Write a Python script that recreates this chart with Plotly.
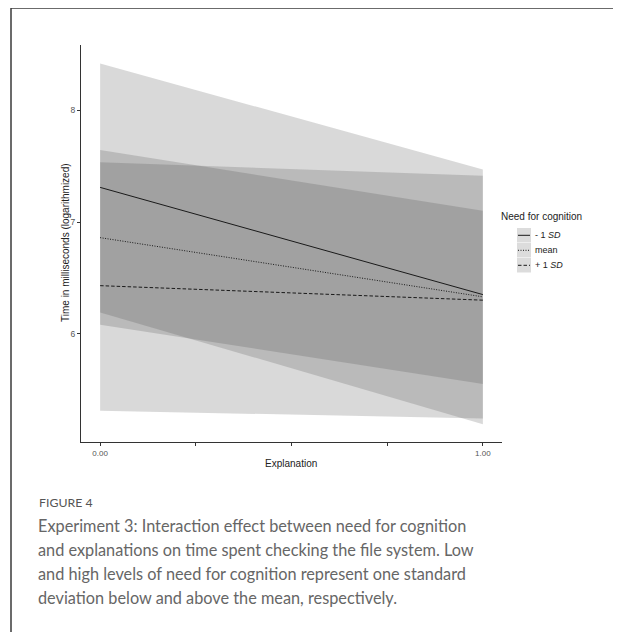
import plotly.graph_objects as go

# ---- data ----
x_vals = [0.0, 1.0]
groups = ["- 1 <i>SD</i>", "mean", "+ 1 <i>SD</i>"]
fit_low = [7.31, 6.35]
fit_mean = [6.86, 6.33]
fit_high = [6.43, 6.30]
ci_low_upper = [8.42, 7.47]
ci_low_lower = [6.19, 5.19]
ci_mean_upper = [7.645, 7.10]
ci_mean_lower = [6.08, 5.55]
ci_high_upper = [7.535, 7.415]
ci_high_lower = [5.31, 5.24]
y_ticks = [6, 7, 8]
x_ticks = [0, 0.25, 0.5, 0.75, 1.0]
x_ticktext = ["0.00", "", "", "", "1.00"]

caption_title = "FIGURE 4"
caption_lines = [
    "Experiment 3: Interaction effect between need for cognition",
    "and explanations on time spent checking the file system. Low",
    "and high levels of need for cognition represent one standard",
    "deviation below and above the mean, respectively.",
]

OFF = 8  # default page body margin
W, H = 621 - OFF, 632 - OFF
FILL = "rgba(65,65,65,0.2)"
LINE_C = "#1a1a1a"
DOT = "1px,1.5px"
DASH = "3.5px,2px"

fig = go.Figure()

ribbons = [
    (ci_low_upper, ci_low_lower),
    (ci_mean_upper, ci_mean_lower),
    (ci_high_upper, ci_high_lower),
]
for up, lo in ribbons:
    fig.add_trace(go.Scatter(
        x=x_vals + x_vals[::-1], y=up + lo[::-1],
        fill="toself", fillcolor=FILL, mode="lines",
        line=dict(width=0), hoverinfo="skip", showlegend=False))

dashes = ["solid", DOT, DASH]
for fit, dash, name in zip([fit_low, fit_mean, fit_high], dashes, groups):
    fig.add_trace(go.Scatter(
        x=x_vals, y=fit, mode="lines", name=name,
        line=dict(color=LINE_C, width=1, dash=dash), showlegend=False))

px_l, px_r = 81, 502
py_t, py_b = 45, 442

def px(v):
    return (v - OFF) / W

def py(v):
    return 1 - (v - OFF) / H

fig.update_layout(
    width=W, height=H,
    margin=dict(l=0, r=0, t=0, b=0, autoexpand=False),
    paper_bgcolor="white", plot_bgcolor="white",
    font=dict(family="Liberation Sans, Arial, sans-serif", color="#333"),
    xaxis=dict(
        domain=[px(px_l), px(px_r)], range=[-0.05, 1.05], automargin=False,
        showgrid=False, zeroline=False,
        showline=True, linecolor="#333", linewidth=1,
        ticks="outside", ticklen=3, tickcolor="#333",
        tickvals=x_ticks, ticktext=x_ticktext,
        tickfont=dict(size=8, color="#555")),
    yaxis=dict(
        domain=[py(py_b), py(py_t)], range=[5.03, 8.585], automargin=False,
        showgrid=False, zeroline=False,
        showline=True, linecolor="#333", linewidth=1,
        ticks="outside", ticklen=3, tickcolor="#333",
        tickvals=y_ticks, tickfont=dict(size=8.5, color="#555")),
)

ann = []
ann.append(dict(x=px(65), y=py(243), xref="paper", yref="paper",
                xanchor="center", yanchor="middle",
                text="Time in milliseconds (logarithmized)", textangle=-90,
                showarrow=False, font=dict(size=10, color="#222")))
ann.append(dict(x=px(291), y=py(463), xref="paper", yref="paper",
                xanchor="center", yanchor="middle",
                text="Explanation", showarrow=False,
                font=dict(size=10, color="#222")))
# legend
ann.append(dict(x=px(499), y=py(217), xref="paper", yref="paper",
                text="Need for cognition", showarrow=False,
                xanchor="left", yanchor="middle",
                font=dict(size=10, color="#222")))
shapes = []
key_tops = [228, 243, 258]
for i, (name, dash) in enumerate(zip(groups, dashes)):
    t = key_tops[i]
    shapes.append(dict(type="rect", xref="paper", yref="paper",
                       x0=px(517), x1=px(531), y0=py(t + 14.5), y1=py(t),
                       fillcolor="#dcdcdc", line=dict(width=0)))
    shapes.append(dict(type="line", xref="paper", yref="paper",
                       x0=px(518), x1=px(530), y0=py(t + 7.3), y1=py(t + 7.3),
                       line=dict(color=LINE_C, width=1, dash=dash)))
    ann.append(dict(x=px(533), y=py(t + 7.3), xref="paper", yref="paper",
                    text=name, showarrow=False,
                    xanchor="left", yanchor="middle",
                    font=dict(size=9, color="#222")))

# caption
ann.append(dict(x=px(37), y=py(502), xref="paper", yref="paper",
                text=caption_title, showarrow=False,
                xanchor="left", yanchor="middle",
                font=dict(family="Lato, Open Sans, sans-serif", size=12.3, color="#555")))
for i, line in enumerate(caption_lines):
    ann.append(dict(x=px(36), y=py(525 + 24 * i), xref="paper", yref="paper",
                    text=line, showarrow=False,
                    xanchor="left", yanchor="middle",
                    font=dict(family="Lato, Open Sans, sans-serif", size=16.3, color="#666")))

# card border (top and left edges visible)
shapes.append(dict(type="line", xref="paper", yref="paper",
                   x0=px(11), x1=1.01, y0=py(8), y1=py(8),
                   line=dict(color="#3a3a3a", width=1.5)))
shapes.append(dict(type="line", xref="paper", yref="paper",
                   x0=px(11), x1=px(11), y0=py(8), y1=-0.01,
                   line=dict(color="#3a3a3a", width=1.5)))

fig.update_layout(annotations=ann, shapes=shapes)
fig.write_html("out.html")
